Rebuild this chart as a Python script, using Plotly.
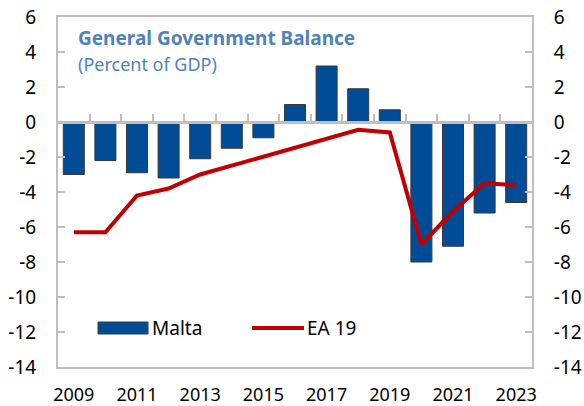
import plotly.graph_objects as go

# General government balance, percent of GDP
years = list(range(2009, 2024))
malta = [-3.0, -2.2, -2.9, -3.2, -2.1, -1.5, -0.9, 1.0, 3.2, 1.9, 0.7, -8.0, -7.1, -5.2, -4.6]
ea19 = [-6.3, -6.3, -4.2, -3.8, -3.0, -2.5, -2.0, -1.5, -1.0, -0.45, -0.6, -7.0, -5.1, -3.5, -3.6]
tick_years = [2009, 2011, 2013, 2015, 2017, 2019, 2021, 2023]
y_ticks = [6, 4, 2, 0, -2, -4, -6, -8, -10, -12, -14]
y_tick_text = [str(v) for v in y_ticks]  # plain hyphen minus

W, H = 584, 406
L, R, T, B = 58, 52, 17, 39
PW, PH = W - L - R, H - T - B

FONT = "Noto Sans"
BLUE = "#004c97"
RED = "#c00000"
AXIS = "#bfbfbf"
TITLE = "#4f82b8"


def px_x(px):
    return (px - L) / PW


def px_y(py):
    return (H - B - py) / PH


fig = go.Figure()
fig.add_trace(go.Bar(
    x=years, y=malta, name="Malta",
    marker=dict(color=BLUE, line=dict(color="#3a3a3a", width=1)),
    xaxis="x", yaxis="y", showlegend=False,
))
fig.add_trace(go.Scatter(
    x=years, y=ea19, name="EA 19", mode="lines",
    line=dict(color=RED, width=4),
    xaxis="x", yaxis="y2", showlegend=False,
))
# placeholder so the zero-line axis gets drawn
fig.add_trace(go.Scatter(x=[], y=[], xaxis="x2", yaxis="y", showlegend=False, hoverinfo="skip"))

yax = dict(
    range=[-14, 6], tickvals=y_ticks, ticktext=y_tick_text, ticks="inside", ticklen=7,
    tickwidth=1.5, tickcolor=AXIS, showline=True, linecolor=AXIS, linewidth=2,
    showgrid=False, zeroline=False, ticklabelstandoff=16, automargin=False,
    tickfont=dict(family=FONT, size=19, color="black"),
)
xrange = [2008.5, 2023.5]

fig.update_layout(
    width=W, height=H,
    margin=dict(l=L, r=R, t=T, b=B, pad=0, autoexpand=False),
    paper_bgcolor="white", plot_bgcolor="white",
    bargap=0.335,
    xaxis=dict(
        range=xrange, tickvals=tick_years, ticks="", showline=True, mirror=True,
        linecolor=AXIS, linewidth=2, showgrid=False, zeroline=False,
        ticklabelstandoff=10, automargin=False,
        tickfont=dict(family=FONT, size=18, color="black"),
    ),
    xaxis2=dict(
        overlaying="x", anchor="free", position=0.7, range=xrange,
        tickvals=[y + 0.5 for y in years[:-1]], ticks="inside", ticklen=7, tickwidth=2,
        tickcolor=AXIS, showline=True, linecolor=AXIS, linewidth=3,
        showticklabels=False, showgrid=False, zeroline=False, automargin=False,
    ),
    yaxis=dict(**yax, side="left"),
    yaxis2=dict(**yax, side="right", overlaying="y", anchor="x"),
)

# title block
fig.add_annotation(
    xref="paper", yref="paper", x=px_x(76), y=px_y(38), xanchor="left", yanchor="middle",
    text="<b>General Government Balance</b>", showarrow=False,
    font=dict(family=FONT, size=19, color=TITLE),
)
fig.add_annotation(
    xref="paper", yref="paper", x=px_x(76), y=px_y(64), xanchor="left", yanchor="middle",
    text="(Percent of GDP)", showarrow=False,
    font=dict(family=FONT, size=18, color=TITLE),
)

# legend
ly = 328
fig.add_shape(type="rect", xref="paper", yref="paper",
              x0=px_x(98), x1=px_x(148), y0=px_y(ly + 6), y1=px_y(ly - 6),
              fillcolor=BLUE, line=dict(color="#3a3a3a", width=1))
fig.add_annotation(xref="paper", yref="paper", x=px_x(150), y=px_y(ly), xanchor="left",
                   yanchor="middle", text="Malta", showarrow=False,
                   font=dict(family=FONT, size=19, color="black"))
fig.add_shape(type="line", xref="paper", yref="paper",
              x0=px_x(252), x1=px_x(304), y0=px_y(ly), y1=px_y(ly),
              line=dict(color=RED, width=4))
fig.add_annotation(xref="paper", yref="paper", x=px_x(305), y=px_y(ly), xanchor="left",
                   yanchor="middle", text="EA 19", showarrow=False,
                   font=dict(family=FONT, size=19, color="black"))

fig.write_html("out.html")
